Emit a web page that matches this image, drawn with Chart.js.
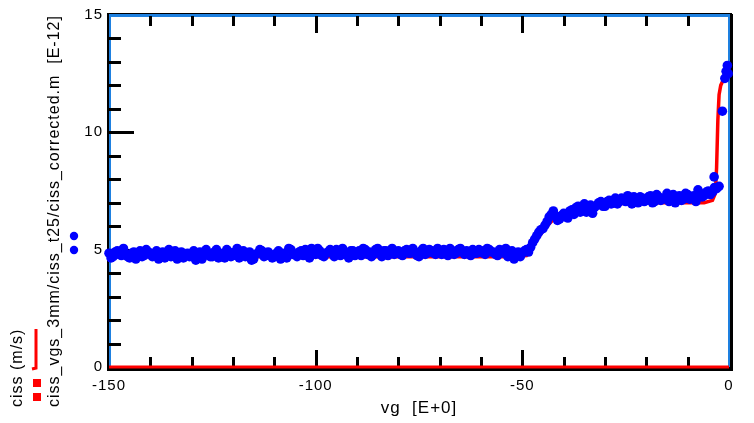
<!DOCTYPE html>
<html>
<head>
<meta charset="utf-8">
<script src="https://cdn.jsdelivr.net/npm/chart.js@4"></script>
<style>
    html, body { margin: 0; padding: 0; background: #fff; }
    #chartCiss { display: block; }
</style>
</head>
<body>
<canvas id="chartCiss" width="754" height="423"></canvas>
<script>

// Medidas (pontos azuis), ciss em E-12
const vgMedido = [
    -150,-149,-148,-147,-146,-145,-144,-143,-142,-141,
    -140,-139,-138,-137,-136,-135,-134,-133,-132,-131,
    -130,-129,-128,-127,-126,-125,-124,-123,-122,-121,
    -120,-119,-118,-117,-116,-115,-114,-113,-112,-111,
    -110,-109,-108,-107,-106,-105,-104,-103,-102,-101,
    -100,-99,-98,-97,-96,-95,-94,-93,-92,-91,
    -90,-89,-88,-87,-86,-85,-84,-83,-82,-81,
    -80,-79,-78,-77,-76,-75,-74,-73,-72,-71,
    -70,-69,-68,-67,-66,-65,-64,-63,-62,-61,
    -60,-59,-58,-57,-56,-55,-54,-53,-52,-51,
    -50,-49,-48,-47,-46,-45,-44,-43,-42,-41,
    -40,-39,-38,-37,-36,-35,-34,-33,-32,-31,
    -30,-29,-28,-27,-26,-25,-24,-23,-22,-21,
    -20,-19,-18,-17,-16,-15,-14,-13,-12,-11,
    -10,-9,-8,-7,-6,-5,-4,-3,
    -3.6,-2.4,-1.6,-1.0,-0.7,-0.4,-0.2
];
const cissMedido = [
    4.85,4.70,4.95,4.75,4.80,4.65,4.90,4.80,4.70,5.00,
    4.85,4.75,4.60,4.90,4.80,4.70,4.95,4.75,4.65,4.85,
    4.80,4.55,4.90,4.75,4.85,4.70,5.00,4.80,4.65,4.90,
    4.75,5.05,4.80,4.70,4.90,4.60,4.85,4.95,4.75,4.80,
    4.70,4.95,4.85,4.65,5.00,4.80,4.90,4.75,4.85,5.05,
    4.80,4.95,4.70,4.90,4.85,5.00,4.75,4.90,4.65,4.95,
    4.85,4.75,5.00,4.90,4.80,5.05,4.70,4.95,4.85,4.80,
    4.95,4.75,5.00,4.85,4.90,4.70,5.05,4.85,4.95,4.80,
    4.90,5.00,4.75,4.95,4.85,5.05,4.80,4.90,5.00,4.85,
    4.95,4.80,5.00,4.90,4.75,4.95,5.05,4.85,4.60,4.90,
    4.85,5.00,5.10,5.45,5.75,5.90,6.20,6.50,6.45,6.30,
    6.55,6.35,6.70,6.80,6.60,6.95,6.75,6.55,6.90,7.05,
    6.85,7.10,7.00,6.95,7.20,7.05,7.15,7.25,7.00,7.20,
    7.10,7.30,7.05,7.25,7.15,7.40,7.20,7.00,7.30,7.15,
    7.35,7.20,7.05,7.40,7.30,7.50,7.45,7.60,
    8.10,7.70,10.90,12.30,12.60,12.85,12.50
];

// segunda varredura, nos meios-passos
const vgMedido2 = [
    -149.5,-148.5,-147.5,-146.5,-145.5,-144.5,-143.5,-142.5,-141.5,-140.5,
    -139.5,-138.5,-137.5,-136.5,-135.5,-134.5,-133.5,-132.5,-131.5,-130.5,
    -129.5,-128.5,-127.5,-126.5,-125.5,-124.5,-123.5,-122.5,-121.5,-120.5,
    -119.5,-118.5,-117.5,-116.5,-115.5,-114.5,-113.5,-112.5,-111.5,-110.5,
    -109.5,-108.5,-107.5,-106.5,-105.5,-104.5,-103.5,-102.5,-101.5,-100.5,
    -99.5,-98.5,-97.5,-96.5,-95.5,-94.5,-93.5,-92.5,-91.5,-90.5,
    -89.5,-88.5,-87.5,-86.5,-85.5,-84.5,-83.5,-82.5,-81.5,-80.5,
    -79.5,-78.5,-77.5,-76.5,-75.5,-74.5,-73.5,-72.5,-71.5,-70.5,
    -69.5,-68.5,-67.5,-66.5,-65.5,-64.5,-63.5,-62.5,-61.5,-60.5,
    -59.5,-58.5,-57.5,-56.5,-55.5,-54.5,-53.5,-52.5,-51.5,-50.5,
    -49.5,-48.5,-47.5,-46.5,-45.5,-44.5,-43.5,-42.5,-41.5,-40.5,
    -39.5,-38.5,-37.5,-36.5,-35.5,-34.5,-33.5,-32.5,-31.5,-30.5,
    -29.5,-28.5,-27.5,-26.5,-25.5,-24.5,-23.5,-22.5,-21.5,-20.5,
    -19.5,-18.5,-17.5,-16.5,-15.5,-14.5,-13.5,-12.5,-11.5,-10.5,
    -9.5,-8.5,-7.5,-6.5,-5.5,-4.5,-3.5
];
const cissMedido2 = [
    4.65,4.90,4.80,5.05,4.70,4.85,4.60,4.95,4.75,4.90,
    4.70,4.95,4.80,4.65,5.00,4.85,4.60,4.90,4.80,4.70,
    4.95,4.75,4.60,5.00,4.70,4.90,4.65,4.85,5.00,4.70,
    4.90,4.65,4.95,4.85,4.55,4.80,5.00,4.70,4.90,4.65,
    4.85,4.60,4.75,5.05,4.80,4.70,4.95,5.00,4.65,4.90,
    5.05,4.75,4.85,5.00,4.70,4.90,5.05,4.80,4.95,4.75,
    4.95,5.05,4.80,4.70,5.00,4.85,4.95,4.75,5.05,4.90,
    4.80,4.95,4.85,5.05,4.75,4.95,4.80,5.00,4.85,5.05,
    4.80,4.90,5.05,4.80,5.00,4.90,4.95,4.75,4.85,5.00,
    4.85,5.05,4.90,4.80,5.00,4.85,4.70,4.95,4.80,4.70,
    4.95,4.90,5.30,5.60,5.85,6.05,6.40,6.65,6.25,6.45,
    6.40,6.65,6.50,6.85,6.75,6.60,6.90,6.80,7.00,6.85,
    7.05,6.95,7.20,7.05,7.10,7.30,6.95,7.15,7.25,7.05,
    7.25,7.00,7.35,7.10,7.20,7.05,7.35,7.25,7.10,7.40,
    7.15,7.30,7.55,7.25,7.45,7.35,7.65
];

// Curva simulada (linha vermelha)
const vgModelo = [-150,-52,-49,-47,-45,-43,-41,-38,-34,-30,-20,-6,-4,-3.3,-3.0,-2.7,-2.4,-2.0,-1.2,-0.4];
const cissModelo = [4.70,4.70,4.75,5.30,5.80,6.20,6.45,6.70,6.85,6.95,7.00,7.00,7.10,7.40,8.50,10.50,11.60,12.00,12.30,12.50];

// ciss (m/s), fica no zero
const vgZero = [-150, 0];
const cissZero = [0, 0];

// Rótulos e marcas dos eixos
const rotulosX = [-150, -100, -50, 0];
const rotulosY = [0, 5, 10, 15];
const marcasX = [-140,-130,-120,-110,-100,-90,-80,-70,-60,-50,-40,-30,-20,-10];
const marcasXMaiores = [-100, -50];
const marcasY = [1,2,3,4,5,6,7,8,9,10,11,12,13,14];
const marcasYMaiores = [5, 10];

const tituloX = 'vg  [E+0]';
const tituloY = 'ciss_vgs_3mm/ciss_t25/ciss_corrected.m  [E-12]';
const nomeZero = 'ciss (m/s)';

const VERMELHO = '#ff0000';
const AZUL = '#0000ff';
const AZUL_MOLDURA = '#1e80e0';
const FONTE = "'Liberation Sans', Arial, sans-serif";

function pares(xs, ys) {
    return xs.map((x, i) => ({ x: x, y: ys[i] }));
}

// espaçamento das letras parecido com o do programa original
const espacamento = {
    id: 'espacamento',
    beforeUpdate(chart) { chart.ctx.letterSpacing = '1px'; },
    beforeDraw(chart) { chart.ctx.letterSpacing = '1px'; }
};

// moldura e marcas dos eixos, desenhadas antes dos dados
const moldura = {
    id: 'moldura',
    beforeDatasetsDraw(chart) {
        const ctx = chart.ctx;
        const { left, right, top, bottom } = chart.chartArea;
        const xs = chart.scales.x, ys = chart.scales.y;
        ctx.save();

        ctx.fillStyle = '#000';
        ctx.fillRect(left - 2, top - 2, 2, bottom - top + 6);
        ctx.fillRect(left - 2, bottom, right - left + 6, 4);
        ctx.fillRect(right + 1, top - 1, 3, bottom - top + 4);
        ctx.fillRect(left - 2, top - 2, right - left + 5, 1);

        ctx.fillStyle = AZUL_MOLDURA;
        ctx.fillRect(left, top - 1, right - left + 1, 3);
        ctx.fillRect(left, top - 1, 2, bottom - top);
        ctx.fillRect(right - 1, top - 1, 2, bottom - top + 1);

        ctx.fillStyle = '#000';
        marcasX.forEach(v => {
            const px = Math.round(xs.getPixelForValue(v));
            const tam = marcasXMaiores.includes(v) ? 17 : 10;
            ctx.fillRect(px - 1, top + 1, 3, tam);
            ctx.fillRect(px - 1, bottom - tam, 3, tam);
        });
        marcasY.forEach(v => {
            const py = Math.round(ys.getPixelForValue(v));
            const tam = marcasYMaiores.includes(v) ? 25 : 12;
            ctx.fillRect(left, py - 1, tam, 3);
        });
        ctx.restore();
    }
};

// legenda vertical e título do eixo y, à esquerda
const legendaLateral = {
    id: 'legendaLateral',
    afterDraw(chart) {
        const ctx = chart.ctx;
        const dsZero = chart.data.datasets[2];
        const dsMedido = chart.data.datasets[0];
        ctx.save();
        ctx.letterSpacing = '1px';
        ctx.fillStyle = '#000';
        ctx.font = '16px ' + FONTE;
        ctx.textAlign = 'left';
        ctx.textBaseline = 'middle';

        ctx.save();
        ctx.translate(18, 407);
        ctx.rotate(-Math.PI / 2);
        ctx.fillText(nomeZero, 0, 0);
        ctx.restore();

        ctx.save();
        ctx.translate(55, 407);
        ctx.rotate(-Math.PI / 2);
        ctx.fillText(tituloY, 0, 0);
        ctx.restore();

        // traço da linha vermelha
        ctx.strokeStyle = dsZero.borderColor;
        ctx.lineWidth = 3;
        ctx.beginPath();
        ctx.moveTo(32, 369);
        ctx.lineTo(36, 368);
        ctx.lineTo(36, 329);
        ctx.stroke();

        ctx.fillStyle = dsZero.borderColor;
        ctx.fillRect(33, 379, 8, 8);
        ctx.fillRect(33, 393, 8, 8);

        ctx.fillStyle = dsMedido.backgroundColor;
        [236, 250].forEach(y => {
            ctx.beginPath();
            ctx.arc(74, y, 4.2, 0, Math.PI * 2);
            ctx.fill();
        });
        ctx.restore();
    }
};

const configCiss = document.getElementById('chartCiss');

new Chart(configCiss, {
    type: 'scatter',
    data: {
        datasets: [{
            label: 'ciss_vgs_3mm/ciss_t25/ciss_corrected.m',
            data: pares(vgMedido, cissMedido).concat(pares(vgMedido2, cissMedido2)),
            backgroundColor: AZUL,
            borderWidth: 0,
            pointRadius: 4.8,
            clip: 6
        }, {
            label: 'ciss',
            data: pares(vgModelo, cissModelo),
            showLine: true,
            borderColor: VERMELHO,
            borderWidth: 3.5,
            pointRadius: 0,
            tension: 0
        }, {
            label: nomeZero,
            data: pares(vgZero, cissZero),
            showLine: true,
            borderColor: VERMELHO,
            borderWidth: 3,
            pointRadius: 0,
            clip: 4
        }]
    },
    options: {
        responsive: false,
        animation: false,
        layout: { padding: { top: 13, right: 25, left: 0, bottom: 0 } },
        plugins: {
            legend: { display: false },
            tooltip: { enabled: false }
        },
        scales: {
            x: {
                type: 'linear',
                min: -150,
                max: 0,
                afterBuildTicks: s => { s.ticks = rotulosX.map(v => ({ value: v })); },
                afterFit: s => { s.height = 56; },
                grid: { display: false, drawTicks: false },
                border: { display: false },
                ticks: {
                    color: '#000',
                    padding: 10,
                    autoSkip: false,
                    maxRotation: 0,
                    font: { family: FONTE, size: 15 }
                },
                title: {
                    display: true,
                    text: tituloX,
                    color: '#000',
                    padding: { top: 0, bottom: 4 },
                    font: { family: FONTE, size: 17 }
                }
            },
            y: {
                type: 'linear',
                min: 0,
                max: 15,
                afterBuildTicks: s => { s.ticks = rotulosY.map(v => ({ value: v })); },
                afterFit: s => { s.width = 109; },
                grid: { display: false, drawTicks: false },
                border: { display: false },
                ticks: {
                    color: '#000',
                    padding: 6,
                    font: { family: FONTE, size: 15 }
                }
            }
        }
    },
    plugins: [espacamento, moldura, legendaLateral]
});

</script>
</body>
</html>
